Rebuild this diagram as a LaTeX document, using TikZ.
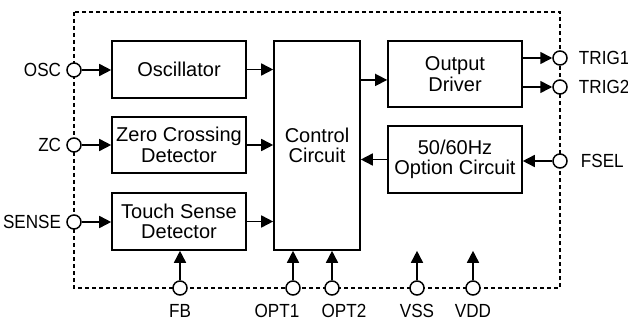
\documentclass[tikz,border=0pt]{standalone}
\usepackage{fontspec}
\setmainfont{Liberation Sans}
\newfontfamily\pinfont[FakeStretch=0.9]{Liberation Sans}
\usetikzlibrary{positioning,arrows.meta}

\tikzset{
  block/.style={draw, line width=1.6pt, align=center, inner sep=0pt, font=\fontsize{20}{20.5}\selectfont},
  pin/.style={circle, draw, fill=white, line width=1.5pt, minimum size=14pt, inner sep=0pt},
  plab/.style={inner sep=0pt, font=\pinfont\fontsize{19}{20}\selectfont},
  sig/.style={line width=1.6pt, -{Triangle[length=12pt,width=12pt]}},
  frame/.style={line width=1.2pt, dash pattern=on 4pt off 3pt}
}

\begin{document}
\begin{tikzpicture}[x=1pt,y=-1pt]
\useasboundingbox (0,0) rectangle (628,320);
% chip outline
\draw[frame] (74,12) rectangle (560,288);

% blocks
\node[block, minimum width=134pt, minimum height=57pt] (osc) at (179,69.5) {Oscillator};
\node[block, minimum width=134pt, minimum height=56pt] (zcd) at (179,145) {Zero Crossing\\Detector};
\node[block, minimum width=134pt, minimum height=57pt] (tsd) at (179,221.5) {Touch Sense\\Detector};
\node[block, minimum width=86pt, minimum height=209pt] (ctrl) at (317,145.5) {Control\\Circuit};
\node[block, minimum width=134pt, minimum height=66pt] (drv) at (455,74) {Output\\Driver};
\node[block, minimum width=134pt, minimum height=67pt] (opt) at (455,159.5) {50/60Hz\\Option Circuit};

% pins
\node[pin] (pOSC) at (74,70) {};
\node[pin] (pZC) at (74,145) {};
\node[pin] (pSEN) at (74,222) {};
\node[pin] (pT1) at (560,58) {};
\node[pin] (pT2) at (560,87) {};
\node[pin] (pFS) at (560,161) {};
\node[pin] (pFB) at (180,288) {};
\node[pin] (pO1) at (293,288) {};
\node[pin] (pO2) at (332,288) {};
\node[pin] (pVSS) at (417,288) {};
\node[pin] (pVDD) at (473,288) {};

% pin names
\node[plab, left=5pt of pOSC] (lOSC) {OSC};
\node[plab, left=5pt of pZC] (lZC) {ZC};
\node[plab, left=5pt of pSEN] (lSEN) {SENSE};
\node[plab, right=11pt of pT1] (lT1) {TRIG1};
\node[plab, right=11pt of pT2] (lT2) {TRIG2};
\node[plab, right=13pt of pFS] (lFS) {FSEL};
\node[plab, below=8pt of pFB] (lFB) {FB};
\node[plab, below=8pt of pO1, xshift=-16pt] (lO1) {OPT1};
\node[plab, below=8pt of pO2, xshift=12pt] (lO2) {OPT2};
\node[plab, below=8pt of pVSS] (lVSS) {VSS};
\node[plab, below=8pt of pVDD] (lVDD) {VDD};

% signals
\draw[sig] (pOSC.east) -- (pOSC.east -| osc.west);
\draw[sig] (pZC.east) -- (pZC.east -| zcd.west);
\draw[sig] (pSEN.east) -- (pSEN.east -| tsd.west);
\draw[sig] (osc.east) -- (osc.east -| ctrl.west);
\draw[sig] (zcd.east) -- (zcd.east -| ctrl.west);
\draw[sig] (tsd.east) -- (tsd.east -| ctrl.west);
\draw[sig] (drv.185 -| ctrl.east) -- (drv.185);
\draw[sig] (drv.east |- pT1) -- (pT1.west);
\draw[sig] (drv.east |- pT2) -- (pT2.west);
\draw[sig] (pFS.west) -- (pFS.west -| opt.east);
\draw[sig] (opt.west) -- (opt.west -| ctrl.east);
\draw[sig] (pFB.north) -- (pFB |- tsd.south);
\draw[sig] (pO1.north) -- (pO1 |- ctrl.south);
\draw[sig] (pO2.north) -- (pO2 |- ctrl.south);
\draw[sig] (pVSS.north) -- (pVSS |- ctrl.south);
\draw[sig] (pVDD.north) -- (pVDD |- ctrl.south);
\end{tikzpicture}
\end{document}
